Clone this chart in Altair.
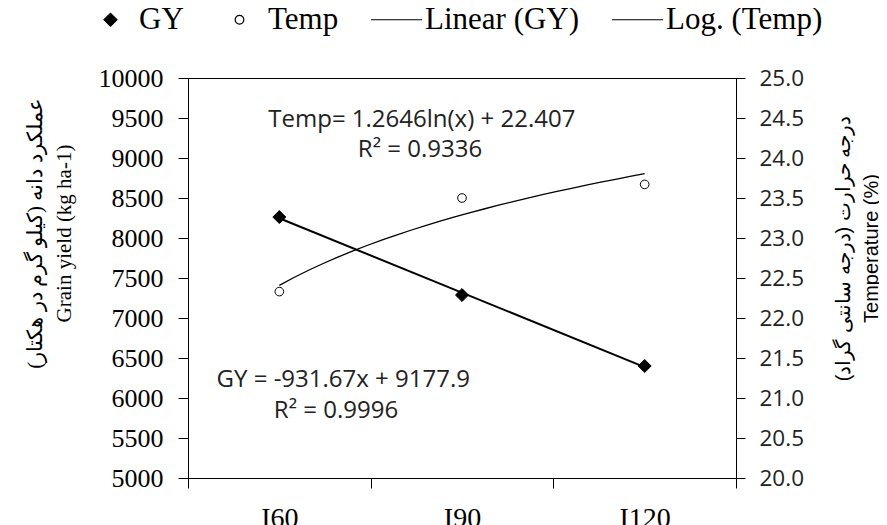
import altair as alt
import pandas as pd

# ---- data ----
categories = ["I60", "I90", "I120"]
x_index = [1, 2, 3]
gy_values = [8262, 7287, 6400]
temp_values = [22.33, 23.50, 23.67]

ann_x = [1.78, 1.77, 1.35, 1.31]
ann_y = [9475, 9100, 6225, 5835]
ann_text = ["Temp= 1.2646ln(x) + 22.407", "R² = 0.9336",
            "GY = -931.67x + 9177.9", "R² = 0.9996"]

gy_ticks = [5000, 5500, 6000, 6500, 7000, 7500, 8000, 8500, 9000, 9500, 10000]
temp_ticks = [20.0, 20.5, 21.0, 21.5, 22.0, 22.5, 23.0, 23.5, 24.0, 24.5, 25.0]
x_axis_values = [0.5, 1, 1.5, 2, 2.5, 3, 3.5]

legend_items = ["GY", "Temp", "Linear (GY)", "Log. (Temp)"]
# symbol outlines in units of the symbol box (diamond, small circle, line)
legend_shapes = [
    "M-0.255,0L0,-0.255L0.255,0L0,0.255Z",
    "M0.17,0A0.17,0.17,0,1,1,-0.17,0A0.17,0.17,0,1,1,0.17,0Z",
    "M-1,0H1",
    "M-1,0H1",
]
legend_fills = ["black", "white", "transparent", "transparent"]

left_title = ["عملکرد دانه (کیلو گرم در هکتار)", "Grain yield (kg ha-1)"]
right_title = ["درجه حرارت (درجه سانتی گراد)", "Temperature (%)"]

df = pd.DataFrame({"x": x_index, "cat": categories, "gy": gy_values, "temp": temp_values})
ann = pd.DataFrame({"x": ann_x, "gy": ann_y, "t": ann_text})

SERIF = "Liberation Serif"
SANS = "Open Sans"
SYMBOL_BOX = 2601  # symbol area -> 51 px legend slot

label_expr = " : ".join(
    f"datum.value == {i} ? '{c}'" for i, c in zip(x_index, categories)
) + " : ''"

x_scale = alt.Scale(domain=[0.5, 3.5], nice=False, zero=False)
x_axis = alt.Axis(
    values=x_axis_values, labelExpr=label_expr, title=None, grid=False,
    tickOpacity={"condition": {"test": "datum.value % 1 === 0", "value": 0}, "value": 1},
    tickSize=10, tickColor="black", domainColor="black", labelColor="black",
    labelFont=SERIF, labelFontSize=28, labelPadding=16, labelOverlap=False,
    labelFlush=False, labelBaseline="top",
)
X = alt.X("x:Q", scale=x_scale, axis=x_axis)

gy_scale = alt.Scale(domain=[5000, 10000], nice=False, zero=False)
temp_scale = alt.Scale(domain=[20, 25], nice=False, zero=False)

gy_axis = alt.Axis(
    values=gy_ticks, format="d", title=left_title, grid=False, orient="left",
    tickSize=10, tickColor="black", domainColor="black", labelOverlap=False,
    labelColor="black", labelFont=SERIF, labelFontSize=26, labelPadding=15,
    titleFont=SERIF, titleFontSize=21, titleFontWeight="normal",
    titleColor="black", titleLineHeight=29, titleAngle=270,
    titleBaseline="bottom", titleX=-143, titleY=155, titleAlign="center",
)
GY = alt.Y("gy:Q", scale=gy_scale, axis=gy_axis)

# one legend shared by all four series (same field, same domain)
LEG = alt.Legend(
    orient="none", legendX=-104, legendY=-85, direction="horizontal", title=None,
    labelFont=SERIF, labelFontSize=31, labelColor="black", labelOffset=2,
    symbolSize=SYMBOL_BOX, symbolStrokeWidth=1.2, columnPadding=29, padding=0,
)
shape_scale = alt.Scale(domain=legend_items, range=legend_shapes)
fill_scale = alt.Scale(domain=legend_items, range=legend_fills)
stroke_scale = alt.Scale(domain=legend_items, range=["black", "black", "black", "black"])


def point_encoding(y):
    return dict(
        x=X, y=y,
        shape=alt.Shape("leg:N", scale=shape_scale, legend=LEG),
        fill=alt.Fill("leg:N", scale=fill_scale, legend=LEG),
        stroke=alt.Stroke("leg:N", scale=stroke_scale, legend=LEG),
    )


# ---- left axis group (GY) ----
gy_line = (
    alt.Chart(df)
    .transform_regression("x", "gy", method="linear")
    .transform_calculate(leg="'Linear (GY)'")
    .mark_line(strokeWidth=2)
    .encode(x=X, y=GY, stroke=alt.Stroke("leg:N", scale=stroke_scale, legend=LEG))
)
gy_pts = (
    alt.Chart(df)
    .transform_calculate(leg="'GY'")
    .mark_point(filled=True, opacity=1, strokeWidth=1, size=SYMBOL_BOX)
    .encode(**point_encoding(GY))
)
eq_text = (
    alt.Chart(ann)
    .mark_text(font=SANS, fontSize=24, color="#222", align="center", baseline="middle")
    .encode(x=X, y=GY, text="t:N")
)
left = alt.layer(gy_line, gy_pts, eq_text)

# ---- right axis group (Temp) ----
temp_axis = alt.Axis(
    values=temp_ticks, format=".1f", title=right_title, grid=False,
    orient="right", tickSize=9, tickColor="black", domainColor="black",
    labelOverlap=False, labelColor="#222", labelFont=SANS, labelFontSize=22.5,
    labelPadding=14,
    titleFont="Liberation Sans", titleFontSize=20, titleFontWeight="normal",
    titleColor="black", titleLineHeight=28, titleAngle=270,
    titleBaseline="top", titleX=97, titleY=170, titleAlign="center",
)
TEMP = alt.Y("temp:Q", scale=temp_scale, axis=temp_axis)
temp_curve = (
    alt.Chart(df)
    .transform_regression("x", "temp", method="log")
    .transform_calculate(leg="'Log. (Temp)'")
    .mark_line(strokeWidth=1.3)
    .encode(x=X, y=TEMP, stroke=alt.Stroke("leg:N", scale=stroke_scale, legend=LEG))
)
temp_pts = (
    alt.Chart(df)
    .transform_calculate(leg="'Temp'")
    .mark_point(filled=True, opacity=1, strokeWidth=1, size=SYMBOL_BOX)
    .encode(**point_encoding(TEMP))
)
right = alt.layer(temp_curve, temp_pts)

chart = (
    alt.layer(left, right)
    .resolve_scale(y="independent")
    .properties(
        width=548, height=400,
        autosize=alt.AutoSizeParams(type="none"),
        padding={"left": 180, "top": 70, "right": 143, "bottom": 60},
        background="white",
    )
    .configure_view(stroke="black", strokeWidth=1)
)

chart.save("out.html", embed_options={"renderer": "svg", "actions": False})
